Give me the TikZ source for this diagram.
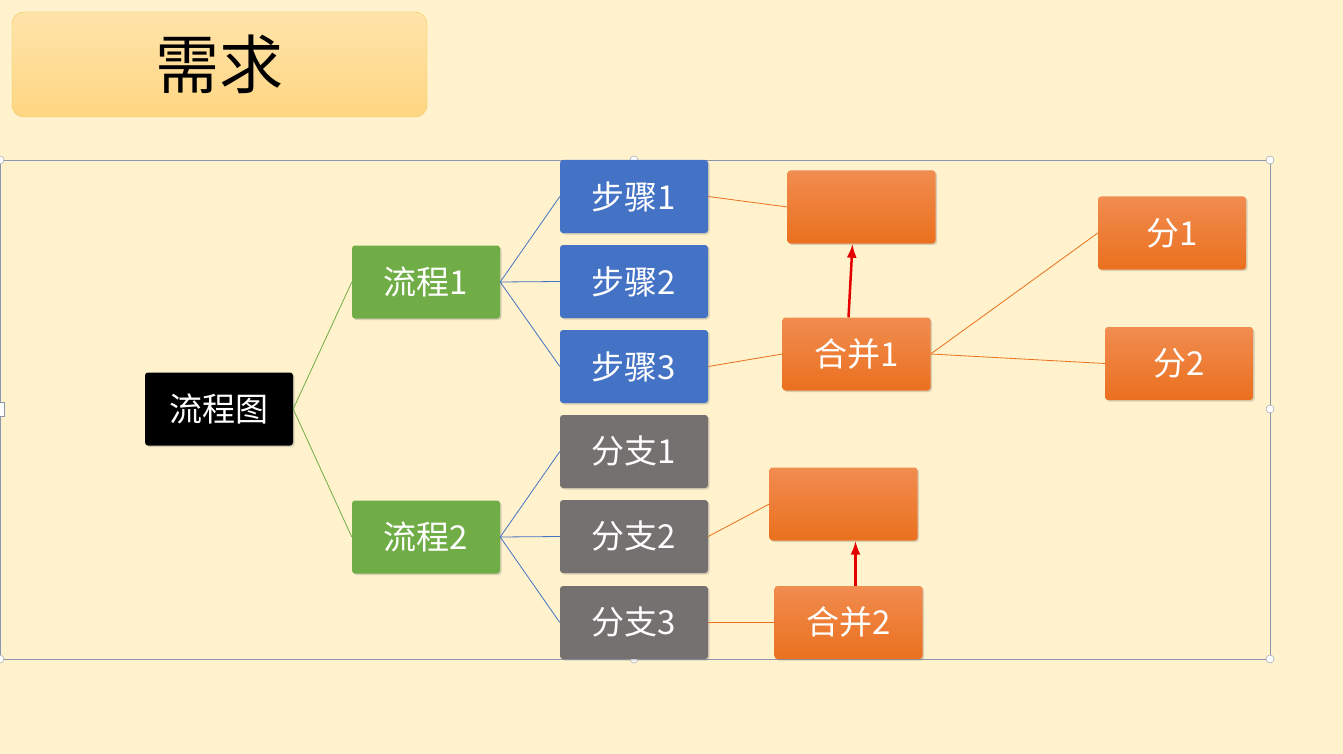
\documentclass[tikz,border=0pt]{standalone}
\usepackage{fontspec}
\setmainfont{Noto Sans CJK SC}
\usetikzlibrary{arrows.meta,shadows}
\definecolor{bg}{RGB}{255,242,204}
\definecolor{gr}{RGB}{112,173,71}
\definecolor{bl}{RGB}{68,114,196}
\definecolor{gy}{RGB}{118,113,113}
\definecolor{orA}{RGB}{241,140,80}
\definecolor{orB}{RGB}{234,112,30}
\definecolor{frame}{RGB}{140,150,170}
\tikzset{
 box/.style={minimum width=148pt,minimum height=73pt,rounded corners=3pt,text=white,font=\fontsize{33}{36}\selectfont,drop shadow={shadow xshift=1.5pt,shadow yshift=-1.5pt,opacity=0.3},inner sep=0pt},
 gbox/.style={box,fill=gr},
 bbox/.style={box,fill=bl},
 ybox/.style={box,fill=gy},
 obox/.style={box,top color=orA,bottom color=orB},
 kbox/.style={box,fill=black},
 gline/.style={draw=gr,line width=0.8pt},
 bline/.style={draw=bl,line width=0.8pt},
 oline/.style={draw=orB,line width=0.8pt},
 redarr/.style={draw=red!90!black,line width=2.5pt,-{Latex[length=14pt,width=10pt]}},
 handle/.style={circle,draw=frame,fill=white,minimum size=8pt,inner sep=0pt}
}
\begin{document}
\begin{tikzpicture}[x=1pt,y=-1pt]
\fill[bg] (0,0) rectangle (1343,754);
\useasboundingbox (0,0) rectangle (1343,754);
\node[rounded corners=12pt,draw={rgb,255:red,245;green,200;blue,80},top color={rgb,255:red,255;green,228;blue,170},bottom color={rgb,255:red,255;green,214;blue,130},minimum width=415pt,minimum height=105pt,font=\fontsize{64}{70}\selectfont] (title) at (219.5,64.5) {需求};
\draw[frame,line width=0.6pt] (0,160) rectangle (1270,659);
\foreach \p [count=\i] in {(0,160),(634,160),(1270,160),(1270,409),(1270,659),(634,659),(0,659)} \node[handle] (h\i) at \p {};
\node[draw=frame,fill=white,minimum width=6pt,minimum height=14pt,inner sep=0pt] (hl) at (1,409) {};
\node[kbox] (root) at (219,409) {流程图};
\node[gbox] (p1) at (426,282) {流程1};
\node[gbox] (p2) at (426,537) {流程2};
\node[bbox] (s1) at (634,196.5) {步骤1};
\node[bbox] (s2) at (634,281.5) {步骤2};
\node[bbox] (s3) at (634,366.5) {步骤3};
\node[ybox] (b1) at (634,451.5) {分支1};
\node[ybox] (b2) at (634,536.5) {分支2};
\node[ybox] (b3) at (634,622.5) {分支3};
\node[obox] (e1) at (861.5,207) {};
\node[obox] (m1) at (856.5,354) {合并1};
\node[obox] (f1) at (1172,233) {分1};
\node[obox] (f2) at (1179,363.5) {分2};
\node[obox] (e2) at (843.5,504) {};
\node[obox] (m2) at (848.5,622.5) {合并2};
\draw[gline] (root.east) -- (p1.west);
\draw[gline] (root.east) -- (p2.west);
\foreach \t in {s1,s2,s3} \draw[bline] (p1.east) -- (\t.west);
\foreach \t in {b1,b2,b3} \draw[bline] (p2.east) -- (\t.west);
\draw[oline] (s1.east) -- (e1.west);
\draw[oline] (s3.east) -- (m1.west);
\draw[oline] (m1.east) -- (f1.west);
\draw[oline] (m1.east) -- (f2.west);
\draw[oline] (b2.east) -- (e2.west);
\draw[oline] (b3.east) -- (m2.west);
\draw[redarr] ([xshift=-8pt]m1.north) -- ([xshift=-9pt]e1.south);
\draw[redarr] ([xshift=7pt]m2.north) -- ([xshift=12pt]e2.south);
\end{tikzpicture}
\end{document}
